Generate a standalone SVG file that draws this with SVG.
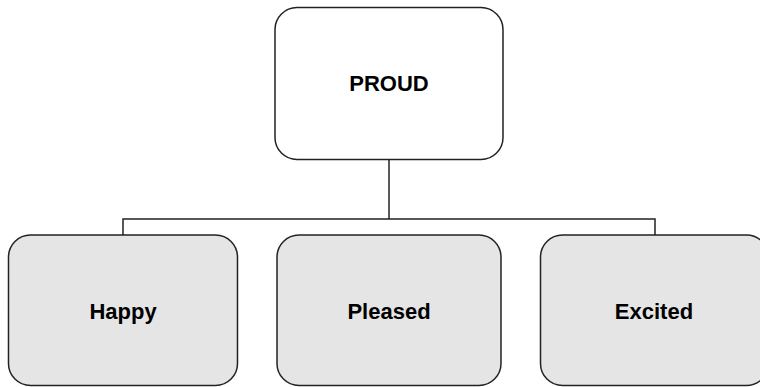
<svg xmlns="http://www.w3.org/2000/svg" width="760" height="387" viewBox="0 0 760 387">
<style>
.box{stroke:#222;stroke-width:1.5}
.top{fill:#ffffff}
.child{fill:#e5e5e5}
.lbl{font-family:"Liberation Sans",Arial,sans-serif;font-weight:bold;font-size:22px;fill:#000;text-anchor:middle}
.conn{fill:none;stroke:#222;stroke-width:1.5}
</style>
<rect width="760" height="387" fill="#ffffff"/>
<g id="connectors">
<path class="conn" d="M389 160 V219"/>
<path class="conn" d="M123 235 V219 H655 V235"/>
</g>
<g id="proud">
<rect class="box top" x="275" y="7.5" width="228" height="152" rx="22" ry="22"/>
<text class="lbl" x="389" y="91">PROUD</text>
</g>
<g id="happy">
<rect class="box child" x="8.5" y="235" width="229" height="150.5" rx="22" ry="22"/>
<text class="lbl" x="123" y="319">Happy</text>
</g>
<g id="pleased">
<rect class="box child" x="277" y="235" width="224" height="150.5" rx="22" ry="22"/>
<text class="lbl" x="389" y="319">Pleased</text>
</g>
<g id="excited">
<rect class="box child" x="540.5" y="235" width="228" height="150.5" rx="22" ry="22"/>
<text class="lbl" x="654" y="319">Excited</text>
</g>
</svg>
